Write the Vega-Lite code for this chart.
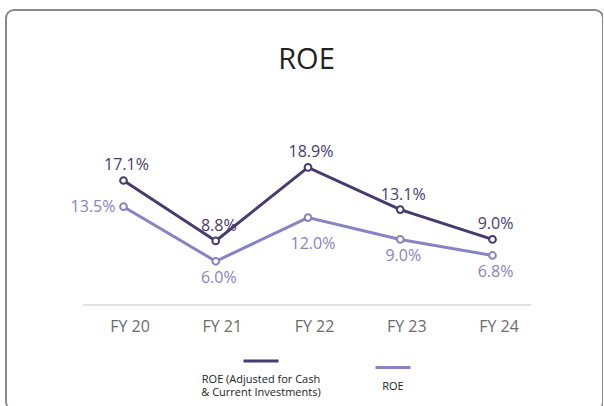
{
  "$schema": "https://vega.github.io/schema/vega-lite/v6.json",
  "width": 597,
  "height": 400,
  "autosize": {"type": "none"},
  "padding": {"left": 6, "top": 10, "right": 0, "bottom": 0},
  "background": "white",
  "config": {
    "font": "Open Sans",
    "view": {"stroke": "#8a8a8a", "strokeWidth": 2, "cornerRadius": 8}
  },
  "title": {
    "text": "ROE",
    "frame": "group",
    "anchor": "middle",
    "orient": "top",
    "baseline": "alphabetic",
    "offset": -88,
    "dx": 2,
    "fontSize": 29,
    "fontWeight": "normal",
    "color": "#222222",
    "font": "Open Sans"
  },
  "data": {
    "values": [
      {"fy": 20, "series": "ROE (Adjusted for Cash & Current Investments)", "value": 0.171},
      {"fy": 21, "series": "ROE (Adjusted for Cash & Current Investments)", "value": 0.088},
      {"fy": 22, "series": "ROE (Adjusted for Cash & Current Investments)", "value": 0.189},
      {"fy": 23, "series": "ROE (Adjusted for Cash & Current Investments)", "value": 0.131},
      {"fy": 24, "series": "ROE (Adjusted for Cash & Current Investments)", "value": 0.090},
      {"fy": 20, "series": "ROE", "value": 0.135},
      {"fy": 21, "series": "ROE", "value": 0.060},
      {"fy": 22, "series": "ROE", "value": 0.120},
      {"fy": 23, "series": "ROE", "value": 0.090},
      {"fy": 24, "series": "ROE", "value": 0.068}
    ]
  },
  "encoding": {
    "x": {
      "field": "fy",
      "type": "quantitative",
      "scale": {"domain": [18.7263, 25.1978], "nice": false, "zero": false},
      "axis": {
        "orient": "bottom",
        "offset": -84,
        "values": [20, 21, 22, 23, 24],
        "labelExpr": "'FY ' + datum.value",
        "domain": false,
        "ticks": false,
        "tickSize": 0,
        "grid": false,
        "labelPadding": 0,
        "labelBaseline": "middle",
        "labelOffset": 6,
        "labelFontSize": 16,
        "labelColor": "#6b6b6b",
        "labelFont": "Open Sans",
        "labelFlush": false,
        "labelOverlap": false,
        "title": null
      }
    },
    "y": {
      "field": "value",
      "type": "quantitative",
      "scale": {"domain": [-0.1443, 0.4052], "nice": false, "zero": false},
      "axis": null
    }
  },
  "layer": [
    {
      "mark": {"type": "rule", "color": "#e2e2e2", "strokeWidth": 2},
      "encoding": {
        "x": {"datum": 19.57},
        "x2": {"datum": 24.41},
        "y": {"datum": 0}
      }
    },
    {
      "mark": {
        "type": "line",
        "strokeWidth": 3,
        "point": {"filled": false, "fill": "white", "size": 45, "strokeWidth": 2}
      },
      "encoding": {
        "color": {
          "field": "series",
          "type": "nominal",
          "scale": {
            "domain": ["ROE (Adjusted for Cash & Current Investments)", "ROE"],
            "range": ["#463a70", "#8a82c2"]
          },
          "legend": {
            "orient": "none",
            "legendX": 236,
            "legendY": 332,
            "direction": "horizontal",
            "title": null,
            "padding": 0,
            "symbolType": "stroke",
            "symbolSize": 1225,
            "symbolStrokeWidth": 3,
            "labelAlign": "center",
            "labelBaseline": "top",
            "labelLineHeight": 15,
            "labelOffset": -19,
            "columnPadding": 48,
            "labelFontSize": 11,
            "labelColor": "#222222",
            "labelFont": "Open Sans",
            "labelLimit": 0,
            "labelExpr": "datum.label == 'ROE' ? ['', 'ROE'] : ['', 'ROE (Adjusted for Cash', '& Current Investments)']"
          }
        }
      }
    },
    {
      "transform": [{"filter": "datum.series != 'ROE'"}],
      "mark": {"type": "text", "fontSize": 16, "dy": -15, "dx": 3, "baseline": "middle", "color": "#463a70"},
      "encoding": {"text": {"field": "value", "format": ".1%"}}
    },
    {
      "transform": [{"filter": "datum.series == 'ROE' && datum.fy != 20 && datum.fy != 22"}],
      "mark": {"type": "text", "fontSize": 16, "dy": 17, "dx": 3, "baseline": "middle", "color": "#8a82c2"},
      "encoding": {"text": {"field": "value", "format": ".1%"}}
    },
    {
      "transform": [{"filter": "datum.series == 'ROE' && datum.fy == 22"}],
      "mark": {"type": "text", "fontSize": 16, "dy": 26, "dx": 5, "baseline": "middle", "color": "#8a82c2"},
      "encoding": {"text": {"field": "value", "format": ".1%"}}
    },
    {
      "transform": [{"filter": "datum.series == 'ROE' && datum.fy == 20"}],
      "mark": {"type": "text", "fontSize": 16, "dx": -8, "align": "right", "baseline": "middle", "color": "#8a82c2"},
      "encoding": {"text": {"field": "value", "format": ".1%"}}
    }
  ]
}
